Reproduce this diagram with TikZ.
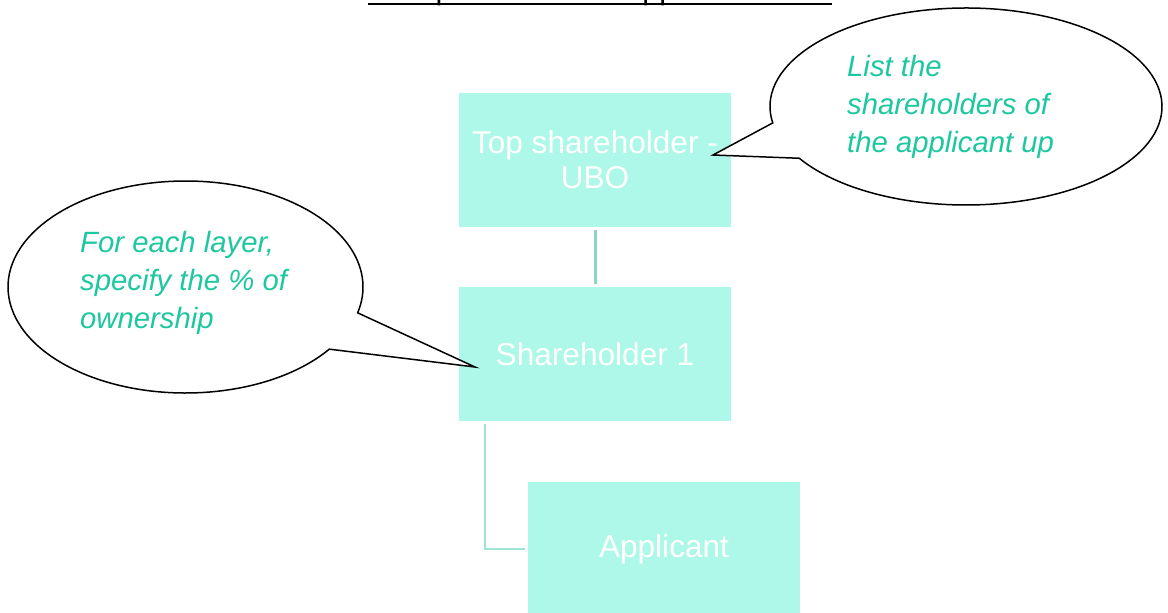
\documentclass[tikz,border=0pt]{standalone}
\usepackage{fontspec}
\setmainfont{Liberation Sans}
\definecolor{boxfill}{HTML}{ADF8E8}
\definecolor{connA}{HTML}{8ED4C4}
\definecolor{connB}{HTML}{9EE4D4}
\definecolor{calltext}{HTML}{1DC79F}
\begin{document}
\begin{tikzpicture}[x=1pt,y=-1pt,
  sbox/.style={fill=boxfill, minimum width=272pt, minimum height=134pt, inner sep=0pt,
    text=white, align=center, font=\fontsize{31.6}{35}\selectfont},
  conn1/.style={connA, line width=3pt, shorten <=3pt, shorten >=3pt},
  conn2/.style={connB, line width=2.5pt},
  callout/.style={draw=black, fill=white, line width=1.5pt, line join=miter},
  ctext/.style={text=calltext, font=\fontsize{29.3}{38}\selectfont\itshape, align=left, inner sep=0pt, anchor=west}]
\useasboundingbox (0,0) rectangle (1168,613);

% title (partly cut off at the top, as in the reference)
\node[font=\fontsize{30.5}{36}\selectfont, anchor=base, inner sep=0pt] (title) at (600,0) {Group structure of Applicant name};
\draw[line width=2pt] ([yshift=-3.5pt]title.base west) -- ([yshift=-3.5pt]title.base east);

% boxes
\node[sbox] (top) at (595,160) {Top shareholder -\\UBO};
\node[sbox] (sh1) at (595,354) {Shareholder 1};
\node[sbox] (app) at (664,549) {Applicant};

% connectors
\draw[conn1] (top.south) -- (sh1.north);
\draw[conn2] ([xshift=26pt,yshift=-3pt]sh1.south west) |- ([xshift=-3pt]app.west);

% callouts
\coordinate (tipR) at (713,155);
\coordinate (tipL) at (475,367);
\draw[callout] (966,106.5) ++(170.4:196 and 98.5)
  arc[start angle=170.4, end angle=508.3, x radius=196, y radius=98.5] -- (tipR) -- cycle;
\draw[callout] (185.5,287) ++(35.9:177.5 and 106)
  arc[start angle=35.9, end angle=374.1, x radius=177.5, y radius=106] -- (tipL) -- cycle;

\node[ctext] (noteR) at (847,106.5) {List the\\shareholders of\\the applicant up};
\node[ctext] (noteL) at (80,282.5) {For each layer,\\specify the \% of\\ownership};
\end{tikzpicture}
\end{document}
